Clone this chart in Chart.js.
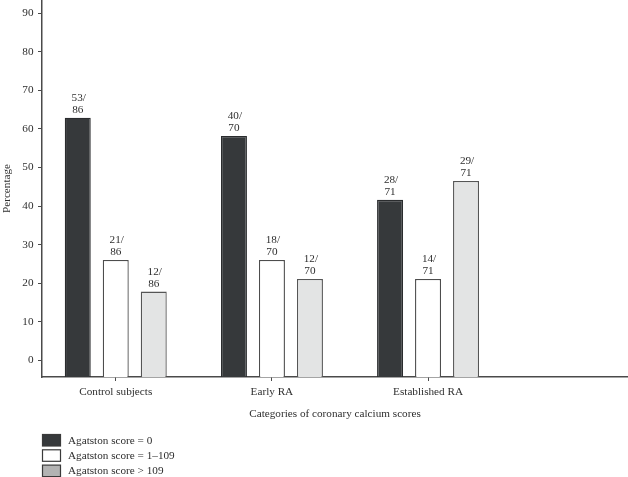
<!DOCTYPE html>
<html>
<head>
<meta charset="utf-8">
<script src="https://cdn.jsdelivr.net/npm/chart.js@4"></script>
<style>
  html, body { margin: 0; padding: 0; background: #fff; }
  #wrap { width: 628px; height: 477px; position: relative; }
</style>
</head>
<body>
<div id="wrap"><canvas id="c"></canvas></div>
<script>
// ---- data ----
const categories = ["Control subjects", "Early RA", "Established RA"];
const seriesNames = ["Agatston score = 0", "Agatston score = 1\u2013109", "Agatston score > 109"];
const scoreZero = [62.9, 58.2, 41.6];
const scoreLow = [26.0, 26.0, 21.1];
const scoreHigh = [17.8, 21.1, 46.5];
const numZero = [53, 40, 28];
const numLow = [21, 18, 14];
const numHigh = [12, 12, 29];
const denominators = [86, 70, 71];
const yTicks = [0, 10, 20, 30, 40, 50, 60, 70, 80, 90];

const Y_MIN = -4.35, Y_MAX = 93.45;
const X_MIN = -0.4723, X_MAX = 3.2805;
const FONT = "'Liberation Serif', 'DejaVu Serif', serif";
const FS = 11.2;
const TXT = '#2e2e2e';
const AXIS = '#4a4a4a';

function pts(arr) { return arr.map((v, i) => ({ x: i, y: v })); }

const numerators = [numZero, numLow, numHigh];

const labelPlugin = {
  id: 'barLabels',
  afterDatasetsDraw(chart) {
    const ctx = chart.ctx;
    ctx.save();
    ctx.font = FS + 'px ' + FONT;
    ctx.fillStyle = TXT;
    ctx.textAlign = 'center';
    ctx.textBaseline = 'middle';
    chart.data.datasets.forEach((ds, di) => {
      const meta = chart.getDatasetMeta(di);
      meta.data.forEach((el, i) => {
        ctx.fillText(numerators[di][i] + '/', el.x + 1, el.y - 20);
        ctx.fillText(String(denominators[i]), el.x, el.y - 7.5);
      });
    });
    ctx.restore();
  }
};

const legendPlugin = {
  id: 'stackedLegend',
  afterDraw(chart) {
    const ctx = chart.ctx;
    ctx.save();
    ctx.font = FS + 'px ' + FONT;
    ctx.textAlign = 'left';
    ctx.textBaseline = 'middle';
    const x0 = 42.5, y0 = 434.5, rowH = 15.3, w = 18, h = 11.5;
    chart.data.datasets.forEach((ds, i) => {
      const y = y0 + i * rowH;
      ctx.fillStyle = ds.legendFill;
      ctx.fillRect(x0, y, w, h);
      ctx.lineWidth = 1.2;
      ctx.strokeStyle = '#3a3a3a';
      ctx.strokeRect(x0, y, w, h);
      ctx.fillStyle = TXT;
      ctx.fillText(ds.label, 68, y + h / 2 + 0.5);
    });
    ctx.restore();
  }
};

new Chart(document.getElementById('c'), {
  type: 'bar',
  data: {
    datasets: [
      { label: seriesNames[0], data: pts(scoreZero), backgroundColor: '#36393b', borderColor: '#2a2c2e', legendFill: '#36393b' },
      { label: seriesNames[1], data: pts(scoreLow), backgroundColor: '#ffffff', borderColor: '#4d4d4d', legendFill: '#ffffff' },
      { label: seriesNames[2], data: pts(scoreHigh), backgroundColor: '#e3e4e4', borderColor: '#555555', legendFill: '#b3b3b3' }
    ]
  },
  options: {
    responsive: true,
    maintainAspectRatio: false,
    animation: false,
    events: [],
    layout: { padding: { top: 0, left: 0, right: 0, bottom: 50 }, autoPadding: false },
    datasets: {
      bar: {
        base: Y_MIN,
        borderWidth: 1.3,
        categoryPercentage: 0.73,
        barPercentage: 0.684,
        grouped: true
      }
    },
    plugins: {
      legend: { display: false },
      tooltip: { enabled: false },
      title: { display: false }
    },
    scales: {
      x: {
        type: 'linear',
        min: X_MIN,
        max: X_MAX,
        offset: false,
        afterBuildTicks: (s) => { s.ticks = categories.map((_, i) => ({ value: i })); },
        afterFit: (s) => { s.height = 50; s.paddingLeft = 0; s.paddingRight = 0; },
        ticks: {
          callback: (v) => categories[v],
          font: { family: FONT, size: FS },
          color: TXT,
          padding: 4,
          maxRotation: 0,
          autoSkip: false
        },
        grid: { display: true, offset: false, drawOnChartArea: false, drawTicks: true, tickLength: 4, color: AXIS, lineWidth: 1 },
        border: { display: true, color: AXIS, width: 1.5 },
        title: {
          display: true,
          text: 'Categories of coronary calcium scores',
          font: { family: FONT, size: FS },
          color: TXT,
          padding: { top: 0, bottom: 6.3 }
        }
      },
      y: {
        min: Y_MIN,
        max: Y_MAX,
        afterBuildTicks: (s) => { s.ticks = yTicks.map(v => ({ value: v })); },
        afterFit: (s) => { s.width = 42; s.paddingTop = 0; s.paddingBottom = 0; },
        ticks: {
          font: { family: FONT, size: FS },
          color: TXT,
          padding: 4.5
        },
        grid: { display: true, drawOnChartArea: false, drawTicks: true, tickLength: 4, color: AXIS, lineWidth: 1 },
        border: { display: true, color: AXIS, width: 1.5 },
        title: {
          display: true,
          text: 'Percentage',
          font: { family: FONT, size: FS },
          color: TXT,
          padding: { top: 0.5, bottom: 0 }
        }
      }
    }
  },
  plugins: [labelPlugin, legendPlugin]
});
</script>
</body>
</html>
